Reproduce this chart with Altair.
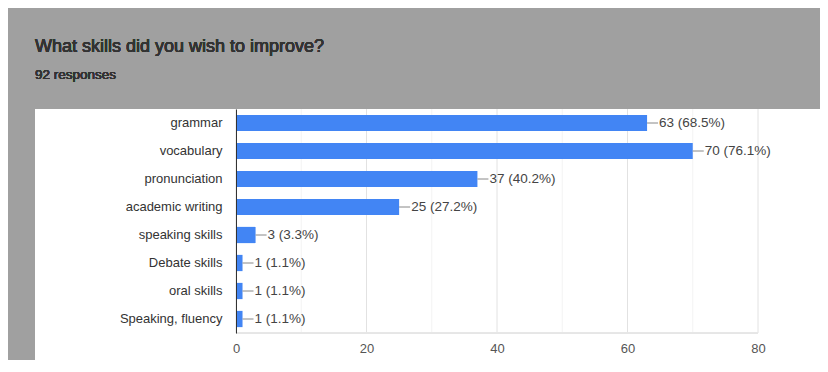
import altair as alt
import pandas as pd

categories = ["grammar", "vocabulary", "pronunciation", "academic writing",
              "speaking skills", "Debate skills", "oral skills", "Speaking, fluency"]
counts = [63, 70, 37, 25, 3, 1, 1, 1]
percents = ["68.5", "76.1", "40.2", "27.2", "3.3", "1.1", "1.1", "1.1"]
x_ticks = [0, 10, 20, 30, 40, 50, 60, 70, 80]
title_text = "What skills did you wish to improve?"
subtitle_text = "92 responses"

df = pd.DataFrame({
    "skill": categories,
    "count": counts,
    "label": [f"{c} ({p}%)" for c, p in zip(counts, percents)],
})
grid_df = pd.DataFrame({"tick": x_ticks, "major": [t % 20 == 0 for t in x_ticks]})

FONT = "Liberation Sans, Arial, sans-serif"
BLUE = "#4285f4"

x_scale = alt.Scale(domain=[0, 80], nice=False)
y_scale = alt.Scale(paddingInner=0.42, paddingOuter=0.21)

y_enc = alt.Y("skill:N", sort=categories, scale=y_scale,
              axis=alt.Axis(title=None, ticks=False, domain=True, domainColor="#333333",
                            labelFont=FONT, labelFontSize=13, labelColor="#333333",
                            labelPadding=14, grid=False, zindex=1))
x_enc = alt.X("count:Q", scale=x_scale,
              axis=alt.Axis(title=None, values=[0, 20, 40, 60, 80], ticks=False, domain=False,
                            labelFont=FONT, labelFontSize=13, labelColor="#555555",
                            labelPadding=9, labelFlush=False, grid=False, zindex=1))

panel = alt.Chart(df).mark_rect(color="white").encode(
    x=alt.value(-201), x2=alt.value(584), y=alt.value(0), y2=alt.value(251))

grid = alt.Chart(grid_df).mark_rule(strokeWidth=1).encode(
    x=alt.X("tick:Q", scale=x_scale),
    color=alt.Color("major:N", scale=alt.Scale(domain=[True, False], range=["#e2e2e2", "#f3f3f3"]),
                    legend=None))

bottom = alt.Chart(grid_df).mark_rule(color="#e6e6e6").encode(
    x=alt.value(0), x2=alt.value(522), y=alt.value(224))

title = alt.Chart(df).mark_text(align="left", baseline="alphabetic", font=FONT,
                                fontSize=18, color="#333333").encode(
    x=alt.value(-201), y=alt.value(-57), text=alt.value(title_text))
subtitle = alt.Chart(df).mark_text(align="left", baseline="alphabetic", font=FONT,
                                   fontSize=13.5, color="#333333").encode(
    x=alt.value(-201), y=alt.value(-30), text=alt.value(subtitle_text))

bars = alt.Chart(df).mark_bar(color=BLUE).encode(x=x_enc, y=y_enc)

leaders = alt.Chart(df).mark_rule(color="#888888", strokeWidth=1, x2Offset=11).encode(
    x="count:Q", x2="count:Q", y=alt.Y("skill:N", sort=categories, bandPosition=0.5))

labels = alt.Chart(df).mark_text(align="left", baseline="middle", dx=12, font=FONT,
                                 fontSize=13.5, color="#444444").encode(
    x="count:Q", y=alt.Y("skill:N", sort=categories), text="label:N")

chart = alt.layer(panel, grid, bottom, bars, leaders, labels, title, subtitle).properties(
    width=522, height=224,
    padding={"left": 228, "top": 101, "right": 62, "bottom": 27},
    autosize=alt.AutoSizeParams(type="none"),
    background="#a0a0a0",
).configure_view(stroke=None)

chart.save("out.html", embed_options={"renderer": "svg", "actions": False})
